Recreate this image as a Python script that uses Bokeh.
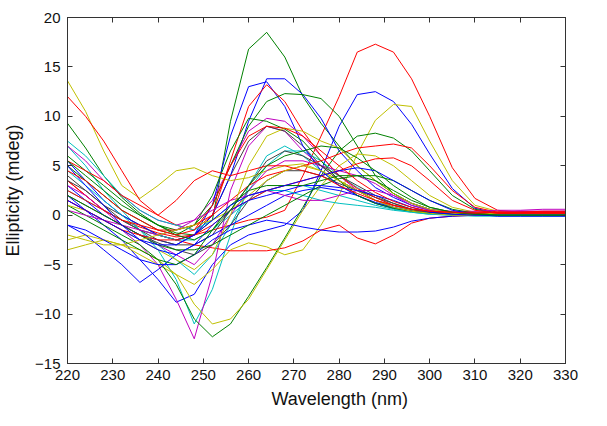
from bokeh.plotting import figure
from bokeh.models import Range1d, LinearAxis, FixedTicker, Title
from bokeh.embed import file_html
from bokeh.resources import INLINE

# wavelength grid (nm)
wavelength = [220, 224, 228, 232, 236, 240, 244, 248, 252, 256, 260, 264, 268, 272,
              276, 280, 284, 288, 292, 296, 300, 305, 310, 315, 320, 325, 330]

x_ticks = [220, 230, 240, 250, 260, 270, 280, 290, 300, 310, 320, 330]
y_ticks = [-15, -10, -5, 0, 5, 10, 15, 20]

# ellipticity spectra (mdeg)
g1 = [9.3, 6.8, 4.0, 1.8, 0.2, -1.0, -1.8, -2.0, -0.5, 9.5, 16.8, 18.5, 16.0, 12.0, 9.3, 7.0, 5.0, 3.5, 2.2, 1.2, 0.6, 0.2, 0.0, 0.0, 0.1, 0.0, 0.0]
r1 = [3.5, 2.0, 0.5, -0.5, -1.2, -1.8, -2.2, -2.0, -1.5, -1.0, -0.5, -0.2, 0.5, 4.0, 8.0, 12.0, 16.5, 17.3, 16.5, 13.8, 10.0, 4.8, 1.7, 0.5, 0.3, 0.3, 0.3]
b1 = [2.0, 0.5, -1.0, -2.5, -4.5, -6.5, -8.8, -8.0, -5.0, -3.0, -2.0, -1.5, -1.0, 0.5, 4.5, 9.0, 12.2, 12.5, 11.5, 9.2, 6.2, 2.7, 0.7, 0.2, 0.1, 0.1, 0.1]
y1 = [-2.5, -2.0, -2.5, -3.0, -4.0, -5.0, -6.0, -7.0, -5.5, -3.5, -2.8, -3.2, -4.0, -3.5, -1.0, 2.0, 6.2, 9.6, 11.2, 11.0, 7.5, 3.5, 1.0, 0.4, 0.2, 0.2, 0.2]
g2 = [1.0, 0.0, -1.0, -2.0, -3.0, -4.5, -7.0, -10.5, -12.3, -11.0, -8.2, -5.3, -2.3, 0.8, 4.0, 6.5, 8.0, 8.3, 7.8, 6.5, 4.5, 2.0, 0.6, 0.2, 0.1, 0.0, 0.0]
m1 = [1.5, 0.5, -0.5, -1.5, -3.0, -5.0, -8.5, -12.5, -6.0, 2.5, 7.0, 9.0, 8.5, 6.5, 5.0, 3.5, 2.5, 1.5, 1.0, 0.5, 0.3, 0.1, 0.1, 0.2, 0.3, 0.3, 0.4]
c1 = [7.0, 5.0, 2.5, 0.5, -1.5, -3.5, -6.5, -11.0, -7.5, -2.0, 3.0, 6.0, 7.0, 6.0, 4.5, 3.0, 2.0, 1.2, 0.7, 0.4, 0.2, 0.1, 0.0, 0.0, 0.0, 0.0, 0.0]
y3 = [-3.5, -3.0, -2.5, -3.0, -3.5, -4.5, -6.0, -9.0, -11.0, -10.5, -8.5, -5.5, -2.5, 0.5, 3.0, 5.0, 6.2, 6.0, 5.0, 3.5, 2.0, 0.8, 0.3, 0.1, 0.0, 0.0, 0.0]
b4 = [5.5, 3.5, 1.5, 0.0, -1.0, -2.0, -2.5, -2.0, 0.0, 4.0, 9.5, 13.8, 13.8, 12.2, 9.8, 6.5, 4.5, 2.8, 1.8, 1.0, 0.5, 0.2, 0.1, 0.1, 0.1, 0.1, 0.1]
b5 = [3.0, 1.5, 0.0, -1.0, -2.0, -2.5, -3.0, -2.0, 1.0, 8.0, 13.0, 13.5, 11.0, 7.0, 4.5, 3.0, 2.0, 1.2, 0.7, 0.4, 0.2, 0.1, 0.0, 0.0, 0.0, 0.0, 0.0]
r3 = [12.0, 10.0, 7.5, 4.5, 1.5, 0.0, -1.0, -1.5, 0.0, 5.5, 11.0, 13.2, 11.5, 8.5, 6.0, 4.0, 2.7, 1.8, 1.0, 0.6, 0.3, 0.2, 0.1, 0.2, 0.3, 0.3, 0.3]
g3 = [6.0, 4.5, 3.0, 1.5, 0.0, -1.0, -1.5, -1.0, 1.0, 5.0, 9.0, 11.5, 12.3, 12.2, 11.8, 10.0, 7.0, 4.0, 2.2, 1.2, 0.6, 0.2, 0.1, 0.0, 0.0, 0.0, 0.0]
m2 = [7.0, 5.5, 3.5, 2.0, 0.5, -0.5, -1.0, -0.5, 1.5, 5.0, 8.5, 9.8, 9.5, 8.0, 6.0, 4.0, 2.5, 1.5, 1.0, 0.6, 0.4, 0.3, 0.3, 0.3, 0.4, 0.4, 0.4]
g4 = [5.0, 3.5, 2.0, 0.5, -0.5, -1.5, -2.0, -1.0, 2.0, 6.5, 9.8, 9.5, 8.7, 7.5, 5.5, 3.5, 2.0, 1.2, 0.7, 0.4, 0.2, 0.1, 0.0, 0.0, 0.0, 0.0, 0.0]
k1 = [4.0, 2.5, 1.0, 0.0, -1.0, -2.0, -2.5, -2.0, 0.0, 4.0, 7.5, 9.0, 8.5, 7.0, 5.0, 3.5, 2.5, 1.5, 0.8, 0.4, 0.2, 0.1, 0.0, 0.0, 0.0, 0.0, 0.0]
y2 = [13.6, 10.5, 6.5, 3.0, 1.7, 3.0, 4.5, 4.8, 4.0, 3.5, 3.8, 4.5, 5.0, 5.2, 4.5, 3.5, 2.5, 1.5, 1.0, 0.5, 0.3, 0.1, 0.0, 0.0, 0.0, 0.0, 0.0]
r2 = [3.5, 2.0, 0.5, -0.5, -1.5, -2.0, -2.5, -3.0, -3.3, -3.6, -3.6, -3.6, -3.3, -2.6, -1.5, -1.0, -2.3, -2.9, -2.0, -0.8, -0.3, -0.1, 0.0, 0.1, 0.2, 0.2, 0.2]
b3 = [-1.0, -2.0, -3.5, -5.0, -6.8, -5.5, -4.0, -3.0, -2.0, -1.0, 0.0, 1.0, 2.0, 2.5, 2.8, 2.5, 2.0, 1.3, 0.8, 0.4, 0.2, 0.1, 0.0, 0.0, 0.0, 0.0, 0.0]
c2 = [4.5, 3.0, 1.5, 0.0, -1.5, -3.0, -4.5, -6.0, -4.0, -1.0, 2.5, 5.0, 6.5, 6.5, 5.5, 4.0, 2.8, 1.8, 1.0, 0.5, 0.2, 0.1, 0.0, 0.0, 0.0, 0.0, 0.0]
m3 = [3.0, 2.0, 0.5, -1.0, -2.0, -3.0, -4.0, -5.0, -3.0, 0.0, 2.5, 4.5, 5.5, 5.5, 5.0, 4.5, 4.0, 3.2, 2.0, 1.0, 0.5, 0.3, 0.3, 0.3, 0.4, 0.4, 0.4]
r4 = [2.5, 1.5, 0.5, -0.5, -1.0, -1.5, -1.5, -1.0, 0.0, 1.5, 3.0, 4.0, 4.5, 5.0, 5.5, 6.2, 6.8, 7.0, 7.2, 6.8, 5.0, 2.5, 0.8, 0.3, 0.3, 0.3, 0.3]
r5 = [1.5, 0.5, -0.5, -1.5, -2.0, -2.5, -2.5, -2.0, -1.0, 0.5, 1.5, 2.5, 3.0, 3.5, 4.0, 4.5, 5.2, 5.7, 5.8, 5.0, 3.5, 1.5, 0.5, 0.2, 0.2, 0.2, 0.2]
g5 = [2.0, 1.0, 0.0, -1.0, -2.0, -3.0, -3.5, -3.5, -3.0, -2.0, -1.0, 0.0, 1.0, 2.0, 3.0, 3.7, 4.0, 4.0, 3.5, 2.5, 1.5, 0.6, 0.2, 0.0, 0.0, 0.0, 0.0]
b6 = [-1.0, -1.5, -2.5, -3.5, -4.5, -5.0, -5.0, -4.0, -2.5, -1.5, -1.0, -0.5, -0.8, -1.2, -1.5, -1.7, -1.7, -1.6, -1.2, -0.6, -0.3, -0.1, 0.0, 0.0, 0.0, 0.0, 0.0]
y4 = [1.0, 0.5, -0.5, -1.5, -2.5, -3.5, -4.5, -5.5, -4.0, 0.0, 5.0, 8.0, 8.8, 8.5, 7.5, 6.8, 5.0, 3.5, 2.2, 1.2, 0.6, 0.2, 0.1, 0.0, 0.0, 0.0, 0.0]
k2 = [2.0, 1.0, 0.0, -1.0, -2.0, -2.8, -3.5, -4.0, -3.0, -1.0, 1.5, 3.5, 4.5, 4.5, 4.0, 3.2, 2.5, 1.8, 1.2, 0.6, 0.3, 0.1, 0.0, 0.0, 0.0, 0.0, 0.0]
b7 = [5.0, 3.0, 1.0, -1.0, -2.5, -3.5, -4.0, -3.0, -1.0, 0.5, 1.5, 2.0, 2.5, 3.0, 3.0, 2.8, 2.5, 2.0, 1.5, 0.8, 0.3, 0.1, 0.0, 0.0, 0.0, 0.0, 0.0]
g6 = [0.5, -0.5, -1.5, -2.5, -3.5, -4.5, -5.0, -4.0, -1.5, 1.0, 2.5, 3.0, 3.0, 3.0, 3.5, 4.0, 4.0, 3.5, 2.5, 1.5, 0.8, 0.3, 0.1, 0.0, 0.0, 0.0, 0.0]
r6 = [5.5, 4.5, 3.5, 2.0, 1.0, 0.0, 1.5, 3.5, 4.5, 4.0, 4.5, 5.0, 5.0, 4.5, 4.0, 3.0, 2.2, 1.5, 1.0, 0.6, 0.4, 0.3, 0.3, 0.3, 0.3, 0.4, 0.4]
c3 = [2.5, 1.5, 0.5, -0.5, -1.5, -2.0, -2.5, -2.5, -1.5, 0.0, 1.5, 2.5, 3.0, 3.0, 2.5, 2.0, 1.5, 1.0, 0.6, 0.3, 0.1, 0.0, -0.1, -0.1, -0.1, -0.1, -0.1]
m4 = [0.5, 0.0, -0.5, -1.0, -1.5, -2.0, -1.5, -0.5, 0.5, 1.5, 2.0, 2.5, 2.0, 1.5, 1.5, 2.0, 2.5, 2.5, 2.0, 1.2, 0.6, 0.4, 0.4, 0.5, 0.5, 0.6, 0.6]
y5 = [-2.0, -2.5, -3.0, -3.0, -2.5, -2.0, -1.5, -1.0, -0.5, 0.5, 2.0, 3.5, 4.5, 5.0, 4.5, 3.5, 2.5, 1.5, 0.8, 0.4, 0.2, 0.0, 0.0, 0.0, 0.0, 0.0, 0.0]
b8 = [1.5, 0.5, -0.5, -1.5, -2.5, -3.0, -3.0, -2.0, -0.5, 1.0, 2.0, 2.5, 3.0, 3.5, 4.0, 4.5, 4.8, 4.5, 3.5, 2.5, 1.5, 0.5, 0.1, -0.1, -0.1, -0.1, -0.1]
k3 = [3.5, 2.5, 1.0, -0.5, -1.5, -2.5, -3.0, -3.0, -2.0, 0.5, 3.0, 5.5, 6.5, 6.0, 5.0, 4.0, 3.0, 2.0, 1.2, 0.6, 0.3, 0.1, 0.0, 0.0, 0.0, 0.0, 0.0]
c4 = [7.5, 6.0, 4.0, 2.0, 0.5, -0.5, -1.0, -1.5, -0.5, 1.0, 2.0, 2.5, 2.5, 2.0, 1.5, 1.2, 1.0, 0.8, 0.5, 0.3, 0.1, 0.0, 0.0, 0.0, 0.0, 0.0, 0.0]
g7 = [5.5, 4.0, 2.5, 1.0, 0.0, -1.0, -2.0, -2.5, -1.5, 0.5, 3.0, 5.0, 6.0, 6.5, 7.0, 6.8, 5.8, 4.5, 3.0, 1.8, 0.8, 0.3, 0.1, 0.0, 0.0, 0.0, 0.0]
r7 = [4.5, 3.5, 2.0, 0.5, -0.5, -1.5, -2.0, -1.5, 1.0, 5.0, 8.0, 9.0, 8.8, 8.0, 6.5, 5.0, 3.5, 2.3, 1.4, 0.8, 0.4, 0.3, 0.2, 0.3, 0.3, 0.3, 0.3]

BLUE, GREEN, RED = "#0000ff", "#008000", "#ff0000"
CYAN, MAGENTA, YELLOW, DARK = "#00bfbf", "#bf00bf", "#bfbf00", "#404040"

series = [
    (b1, BLUE), (g1, GREEN), (r1, RED), (c1, CYAN), (m1, MAGENTA), (y1, YELLOW), (k1, DARK),
    (b4, BLUE), (g2, GREEN), (r2, RED), (c2, CYAN), (m2, MAGENTA), (y2, YELLOW), (k2, DARK),
    (b5, BLUE), (g3, GREEN), (r3, RED), (c3, CYAN), (m3, MAGENTA), (y3, YELLOW), (k3, DARK),
    (b3, BLUE), (g4, GREEN), (r4, RED), (c4, CYAN), (m4, MAGENTA), (y4, YELLOW),
    (b6, BLUE), (g5, GREEN), (r5, RED), (y5, YELLOW),
    (b7, BLUE), (g6, GREEN), (r6, RED),
    (b8, BLUE), (g7, GREEN), (r7, RED),
]

FONT = "Liberation Sans"
AXIS = "#333333"

p = figure(frame_width=498, frame_height=346, output_backend="svg", toolbar_location=None,
           x_range=Range1d(220, 330), y_range=Range1d(-15, 20),
           min_border_left=62, min_border_right=28, min_border_top=17, min_border_bottom=48)
p.title.visible = False
p.background_fill_color = "white"
p.border_fill_color = "white"
p.xgrid.visible = False
p.ygrid.visible = False
p.outline_line_color = AXIS
p.outline_line_width = 1

for vals, col in series:
    p.line(wavelength, vals, line_color=col, line_width=1, line_join="round")

xt = FixedTicker(ticks=x_ticks)
yt = FixedTicker(ticks=y_ticks)

for ax in (p.xaxis[0], p.yaxis[0]):
    ax.major_tick_in = 5
    ax.major_tick_out = 0
    ax.minor_tick_line_color = None
    ax.axis_line_color = AXIS
    ax.major_tick_line_color = AXIS
    ax.major_label_text_font = FONT
    ax.major_label_text_font_size = "15px"
    ax.major_label_text_color = "#111111"
    ax.axis_label_text_font = FONT
    ax.axis_label_text_font_size = "18px"
    ax.axis_label_text_font_style = "normal"
    ax.axis_label_text_color = "#111111"

p.xaxis[0].ticker = xt
p.yaxis[0].ticker = yt
p.xaxis[0].major_label_standoff = 6
p.yaxis[0].major_label_standoff = 7
p.yaxis[0].axis_label = "Ellipticity (mdeg)"
p.yaxis[0].axis_label_standoff = 9

top = LinearAxis(ticker=FixedTicker(ticks=x_ticks), major_tick_in=5, major_tick_out=0,
                 minor_tick_line_color=None, major_label_text_font_size="0px",
                 major_label_standoff=0, axis_line_color=AXIS, major_tick_line_color=AXIS)
right = LinearAxis(ticker=FixedTicker(ticks=y_ticks), major_tick_in=5, major_tick_out=0,
                   minor_tick_line_color=None, major_label_text_font_size="0px",
                   major_label_standoff=0, axis_line_color=AXIS, major_tick_line_color=AXIS)
p.add_layout(top, "above")
p.add_layout(right, "right")

xlabel = Title(text="Wavelength (nm)", align="left", offset=204, text_font=FONT,
               text_font_size="18px", text_font_style="normal", text_color="#111111",
               standoff=8)
p.add_layout(xlabel, "below")

open("out.html", "w").write(file_html(p, INLINE))
